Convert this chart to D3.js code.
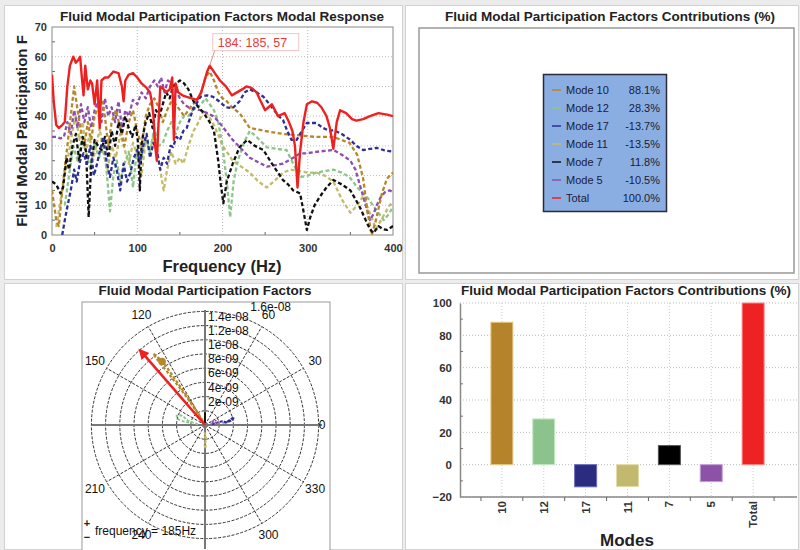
<!DOCTYPE html>
<html><head><meta charset="utf-8">
<script src="https://cdn.jsdelivr.net/npm/d3@7"></script>
<style>body{margin:0;background:#fff} svg{display:block;font-family:"Liberation Sans",Arial,sans-serif}</style>
</head><body><svg id="c" width="800" height="550"></svg>
<script>
// ---------- Modal response data (frequency Hz, value) ----------
const totalFreq = [0,2,5,8,12,15,18,21,25,28,31,33,35,37,39,42,45,47,50,53,56,58,62,66,72,78,82,84,86,90,95,100,105,111,115,117,119,121,123,125,127,131,134,138,141,143,145,148,153,158,164,170,175,179,182,185,191,197,204,211,217,223,228,234,240,244,250,254,258,265,273,278,282,285,288,291,295,299,305,311,316,322,326,330,334,338,345,352,357,365,373,383,393,400];
const totalVals = [54,45,37,36,37,38,50,57,60,58,59,60,53,47,57,49,52,51,44,52,36,52,53,53,55,54.5,50,45,52,54,54.5,53,51,49.5,48,45,40,30,25,38,50,49,48,49,53,32,51,48,47,46.5,46,45.5,48,52,55,57,54.5,52,50,47,48,49,50,49.5,48,45.5,42,43,44,40,41,38,35,30,16,28,38,44,45,44.5,43,40,36,29,38,42,41,39,38.5,39,40,41,40.5,40];

const mode10Freq = [0,5,8,12,18,22,26,30,34,38,42,46,50,55,58,62,66,70,75,80,85,90,95,100,105,110,115,120,125,130,135,140,145,150,155,160,165,170,175,180,185,190,195,200,205,211,220,232,250,271,291,310,330,349,358,365,370,375,380,387,393,400];
const mode10Vals = [15,5,3,15,30,40,50,42,35,30,38,32,40,44,46,40,30,38,42,36,30,38,42,35,30,40,44,46,43,38,42,45,44,42,40,42,44,45,48,53,55,52,48,46,45,43,41,36,35,34,33.5,33,33,31,27,19,8,0,5,14,19,21];

const mode12Freq = [15,20,25,30,35,40,45,50,55,60,64,68,72,76,80,85,90,95,100,105,110,115,120,125,130,135,140,145,150,155,160,165,170,175,180,185,190,195,200,205,209,213,218,225,232,240,252,263,275,283,291,300,310,320,330,340,349,358,369,379,389,395,400];
const mode12Vals = [10,20,30,25,32,28,22,31,26,30,22,8,20,25,18,24,28,16,30,26,33,28,36,30,31,35,38,34,38,40,40,42,43,44,46,44,42,38,30,18,6,18,25,31,35,33,29.5,29,28.6,24,19.5,20,21,21.5,22,21,19.5,16,13,9,5,7,9.5];

const mode17Freq = [12,15,18,22,26,29,33,37,41,45,49,52,56,60,64,68,72,76,80,84,88,92,96,100,103,107,111,115,119,123,127,131,135,139,142,146,150,154,158,165,174,182,189,196,204,212,220,226,232,240,248,258,266,271,276,281,287,293,299,303,310,318,326,330,340,350,357,365,373,381,390,400];
const mode17Vals = [0,5,9.5,15,22,18,25,27.5,24,30,20,23,28,33,25,19.5,26,22,15,24,18,21,26,28.6,24,30,34,26,31,28.6,22,26,24,30,29.6,33,32,35,36,42,46.5,47,46.5,45,43,42.7,45,48,49,48,46.5,43,40,38.7,35,32,32,35,37.7,37.7,37.7,36,35,35.3,34,32,30,28.6,29,29.3,28.5,28];

const mode11Freq = [5,8,12,16,20,24,28,32,36,40,44,48,52,56,60,65,70,75,80,85,90,95,100,105,110,115,120,125,128,131,135,140,145,150,154,160,166,172,178,184,190,196,200,205,212,222,232,242,252,260,271,280,290,300,310,320,330,340,350,358,365,372,380,388,396,400];
const mode11Vals = [2.7,8,15,22,28,35,40,32,38,28,34,25,30,36,28,22,30,26,34,29,24,31,27,20,32,28,35,25,20,15,22,28,24,26,24,30,35,38,42,40,37,33,30,28,25,23,21,18,16,18,21,22,21.5,21,21,20,18,12,7.5,10,13,8,2,6,10,11];

const mode7Freq = [0,5,10,13,17,20,24,28,32,36,40,43,46,50,54,58,62,66,70,74,78,82,86,90,94,98,101,103,105,107,110,114,118,122,126,130,134,138,142,146,150,155,160,166,172,178,185,190,195,198,201,205,212,220,229,238,248,258,265,271,277,283,291,295,299,303,308,314,322,330,340,350,356,361,368,373,377,383,388,393,400];
const mode7Vals = [18,17,14,16,26,22,30,34,25,33,28,6,24,32,30,28.6,33,26,35,30,38,34,40,36,33,37,31,15,30,34,38,41,36,42,40,44,48,46,50,51,52,51,49,45,43,41,38,35,25,17,10.7,18,24,29.6,32,30,28.6,24,21,18.5,17,15,14,8,1.7,6,10,12.8,16,18.5,17,15,12,9.4,5,2,0.7,3,2,1.7,3];

const mode5Freq = [0,5,10,14,18,22,26,30,34,38,42,46,50,54,58,62,66,70,74,78,82,86,90,95,100,105,110,115,120,124,128,132,136,140,145,150,155,160,167,174,182,189,196,204,212,222,232,242,252,262,271,277,283,291,299,310,320,330,340,350,356,360,365,370,373,377,381,386,391,396,400];
const mode5Vals = [33,33,32.5,33,38,34,42,36,44,38,43,36,42,45,38,46,40,43,38,45,36,42,40,45.5,44,48,46,50,52,50,53,48,52,51,49,46,44,43,42.5,42,41,40,38,35,32,29,26,24.5,23,23.5,24,25,26,27.5,27.5,28,28.3,28.6,27,25,22,18,13,8,5,7,10,13,14.5,15,14.5];

const freqTicks = [0,100,200,300,400];
const respTicks = [0,10,20,30,40,50,60,70];
const peakLabel = "184: 185, 57";
const peakFreq = 185, peakVal = 57;

// ---------- Contributions ----------
const modeNames = ["10","12","17","11","7","5","Total"];
const contrib = [88.1,28.3,-13.7,-13.5,11.8,-10.5,100.0];
const legendNames = ["Mode 10","Mode 12","Mode 17","Mode 11","Mode 7","Mode 5","Total"];
const contribTicks = [-20,0,20,40,60,80,100];

// ---------- Polar (magnitude in 1e-9 units, angle deg) ----------
const ringVals = [2,4,6,8,10,12,14,16];
const ringLabels = ["2e-09","4e-09","6e-09","8e-09","1e-08","1.2e-08","1.4e-08","1.6e-08"];
const angleLabels = [0,30,60,120,150,210,240,300,330];
const totalVecAngle = 131, totalVecMag = 14.1;
const locus10 = [[120,0.5],[123,4],[125,8],[126,12.4],[124,10.8],[123,7],[121,3],[118,0.5]];
const locus12 = [[175,1],[165,2.5],[158,3.5],[162,4.2],[168,3.8],[172,2]];
const locus17 = [[5,1],[12,2.5],[8,3],[15,4.2],[10,3.8],[6,2.5]];
const locus11 = [[265,1],[275,2],[268,2.8],[272,3.3],[270,1.5]];
const locus7  = [[92,0.3],[90,1.8]];
const locus5  = [[20,1],[10,1.9],[25,1.5],[15,0.8]];
const dot10 = [124,10.8];

const colors = {"10":"#b8862a","12":"#8cc58a","17":"#2e2e96","11":"#c4bb6a","7":"#111111","5":"#8c4fb0","Total":"#ee2020"};
const barColors = {"10":"#b5842a","12":"#8cc38c","17":"#2b2b80","11":"#c2b96e","7":"#000000","5":"#8c52a8","Total":"#ee2222"};
const barStroke = {"10":"#e6c98a","12":"#c8e8c8","17":"#6a6ab8","11":"#e4dca8","7":"#555","5":"#c3a0d8","Total":"#f88"};

const svg = d3.select("#c");
svg.append("rect").attr("width",800).attr("height",550).attr("fill","#ececec");
[[4,5,398,274],[405,5,393,274],[4,283,398,266],[405,283,393,266]].forEach(p=>{
  svg.append("rect").attr("x",p[0]+0.5).attr("y",p[1]+0.5).attr("width",p[2]).attr("height",p[3]).attr("fill","#fff").attr("stroke","#d2d2d2");
});
const titleStyle = s => s.attr("font-size",13.5).attr("font-weight","bold").attr("fill","#222").attr("text-anchor","middle");

// ================= Panel 1: modal response =================
{
  const x = d3.scaleLinear([0,400],[52,393]);
  const y = d3.scaleLinear([0,70],[235,27]);
  const g = svg.append("g");
  svg.append("defs").append("clipPath").attr("id","clip1").append("rect").attr("x",52).attr("y",27).attr("width",341).attr("height",208);
  titleStyle(g.append("text").attr("x",222).attr("y",21)).text("Fluid Modal Participation Factors Modal Response");
  g.selectAll(".gy").data(respTicks.slice(1,-1)).join("line").attr("x1",52).attr("x2",393).attr("y1",d=>y(d)).attr("y2",d=>y(d)).attr("stroke","#bbb").attr("stroke-dasharray","1,2");
  g.selectAll(".gx").data(freqTicks.slice(1,-1)).join("line").attr("y1",27).attr("y2",235).attr("x1",d=>x(d)).attr("x2",d=>x(d)).attr("stroke","#bbb").attr("stroke-dasharray","1,2");
  const ax = g.append("g").attr("transform","translate(0,235)").call(d3.axisBottom(x).tickValues(freqTicks).tickSize(0).tickPadding(9).tickFormat(d3.format("d")));
  const ay = g.append("g").attr("transform","translate(52,0)").call(d3.axisLeft(y).tickValues(respTicks).tickSize(0).tickPadding(5));
  [ax,ay].forEach(a=>{a.select(".domain").remove(); a.selectAll("text").attr("font-size",11).attr("font-weight","bold").attr("fill","#333").attr("font-family","Liberation Sans, Arial");});
  g.selectAll(".mt").data([50,150,250,350]).join("line").attr("x1",d=>x(d)).attr("x2",d=>x(d)).attr("y1",235).attr("y2",232).attr("stroke","#666");
  g.selectAll(".mty").data([5,15,25,35,45,55,65]).join("line").attr("x1",52).attr("x2",55).attr("y1",d=>y(d)).attr("y2",d=>y(d)).attr("stroke","#666");
  g.append("rect").attr("x",52).attr("y",27).attr("width",341).attr("height",208).attr("fill","none").attr("stroke","#888");
  const series = [
    [mode11Freq,mode11Vals,"11"],[mode12Freq,mode12Vals,"12"],[mode5Freq,mode5Vals,"5"],
    [mode10Freq,mode10Vals,"10"],[mode7Freq,mode7Vals,"7"],[mode17Freq,mode17Vals,"17"]
  ];
  const line = d3.line().x(d=>x(d[0])).y(d=>y(d[1]));
  const lg = g.append("g").attr("clip-path","url(#clip1)");
  series.forEach(([f,v,k])=>{
    lg.append("path").attr("d",line(f.map((ff,i)=>[ff,v[i]]))).attr("fill","none").attr("stroke",colors[k]).attr("stroke-width",2.3).attr("stroke-dasharray","4,2.5").attr("stroke-linejoin","round");
  });
  lg.append("path").attr("d",line(totalFreq.map((ff,i)=>[ff,totalVals[i]]))).attr("fill","none").attr("stroke",colors.Total).attr("stroke-width",2.4).attr("stroke-linejoin","round");
  const px = x(peakFreq), py = y(peakVal);
  g.append("rect").attr("x",px+3).attr("y",py-32).attr("width",86).attr("height",17).attr("fill","#fff").attr("stroke","#f4c4c4");
  g.append("line").attr("x1",px).attr("y1",py).attr("x2",px+5).attr("y2",py-15).attr("stroke","#f08a8a");
  g.append("text").attr("x",px+8).attr("y",py-19).attr("font-size",12.5).attr("fill","#e83a3a").text(peakLabel);
  g.append("text").attr("x",222).attr("y",272).attr("text-anchor","middle").attr("font-size",16.5).attr("font-weight","bold").attr("fill","#222").text("Frequency (Hz)");
  g.append("text").attr("transform","translate(27,131) rotate(-90)").attr("text-anchor","middle").attr("font-size",15).attr("font-weight","bold").attr("fill","#222").text("Fluid Modal Participation F");
}

// ================= Panel 2: legend only =================
{
  const g = svg.append("g");
  titleStyle(g.append("text").attr("x",610).attr("y",21)).text("Fluid Modal Participation Factors Contributions (%)");
  g.append("rect").attr("x",419).attr("y",28).attr("width",375).attr("height",245).attr("fill","#fff").attr("stroke","#999").attr("stroke-width",1.5);
  g.append("rect").attr("x",543.5).attr("y",74.5).attr("width",123).attr("height",137).attr("fill","#8aaee2").attr("stroke","#2a2a3a").attr("stroke-width",1.5);
  legendNames.forEach((n,i)=>{
    const yy = 90 + i*18;
    g.append("line").attr("x1",552).attr("x2",561).attr("y1",yy).attr("y2",yy).attr("stroke",colors[modeNames[i]]).attr("stroke-width",1.5);
    g.append("text").attr("x",566).attr("y",yy+4).attr("font-size",11).attr("fill","#1a1a3a").text(n);
    g.append("text").attr("x",660).attr("y",yy+4).attr("font-size",11).attr("fill","#1a1a3a").attr("text-anchor","end").text(contrib[i].toFixed(1)+"%");
  });
}

// ================= Panel 3: polar =================
{
  const cx = 205, cy = 425;
  const r = d3.scaleLinear([0,16],[0,113.6]);
  const g = svg.append("g");
  titleStyle(g.append("text").attr("x",205).attr("y",295)).text("Fluid Modal Participation Factors");
  svg.select("defs").append("clipPath").attr("id","clip3").append("rect").attr("x",82).attr("y",302).attr("width",248).attr("height",247);
  g.append("rect").attr("x",82).attr("y",302).attr("width",248).attr("height",250).attr("fill","#fff").attr("stroke","#999");
  const pg = g.append("g").attr("clip-path","url(#clip3)");
  const pt = (a,m)=>[cx + r(m)*Math.cos(a*Math.PI/180), cy - r(m)*Math.sin(a*Math.PI/180)];
  ringVals.forEach(v=>{
    pg.append("circle").attr("cx",cx).attr("cy",cy).attr("r",r(v)).attr("fill","none").attr("stroke","#333").attr("stroke-width",1).attr("stroke-dasharray","3,1.5");
  });
  d3.range(30,360,30).filter(a=>a%90!==0).forEach(a=>{
    const p = pt(a,16);
    pg.append("line").attr("x1",cx).attr("y1",cy).attr("x2",p[0]).attr("y2",p[1]).attr("stroke","#333").attr("stroke-width",1).attr("stroke-dasharray","3,1.5");
  });
  pg.append("line").attr("x1",cx-113).attr("x2",cx+117).attr("y1",cy).attr("y2",cy).attr("stroke","#777").attr("stroke-width",2);
  pg.append("line").attr("x1",cx).attr("x2",cx).attr("y1",cy-115).attr("y2",552).attr("stroke","#777").attr("stroke-width",2);
  ringLabels.forEach((t,i)=>{
    if (i < ringLabels.length-1) {
      pg.append("text").attr("x",cx+3).attr("y",cy - r(ringVals[i]) - 5).attr("font-size",12).attr("fill","#111").text(t);
    } else {
      const p = pt(69, 17.8);
      pg.append("text").attr("x",p[0]).attr("y",p[1]+4).attr("font-size",12).attr("fill","#111").text(t);
    }
  });
  angleLabels.forEach(a=>{
    const p = pt(a,17.9);
    pg.append("text").attr("x",Math.min(p[0],322)).attr("y",p[1]+4).attr("text-anchor","middle").attr("font-size",12).attr("fill","#111").text(a);
  });
  const pl = d3.line().x(d=>pt(d[0],d[1])[0]).y(d=>pt(d[0],d[1])[1]).curve(d3.curveCatmullRom);
  [[locus12,"12",1.8,"3,1.5"],[locus11,"11",1.8,"3,1.5"],[locus17,"17",2,"3,1"],[locus5,"5",1.6,"2,1"],[locus7,"7",2,null],[locus10,"10",2.2,"3,2"]].forEach(([d,k,w,da])=>{
    const p = pg.append("path").attr("d",pl(d)).attr("fill","none").attr("stroke",colors[k]).attr("stroke-width",w);
    if (da) p.attr("stroke-dasharray",da);
  });
  const dp = pt(dot10[0],dot10[1]);
  pg.append("circle").attr("cx",dp[0]).attr("cy",dp[1]).attr("r",3.8).attr("fill",colors["10"]);
  svg.select("defs").append("marker").attr("id","arr").attr("viewBox","0 0 10 10").attr("refX",9).attr("refY",5)
    .attr("markerWidth",5).attr("markerHeight",4).attr("orient","auto").attr("markerUnits","strokeWidth")
    .append("path").attr("d","M0,0L10,5L0,10Z").attr("fill",colors.Total);
  const tip = pt(totalVecAngle,totalVecMag);
  pg.append("line").attr("x1",cx).attr("y1",cy).attr("x2",tip[0]).attr("y2",tip[1]).attr("stroke",colors.Total).attr("stroke-width",2.6).attr("marker-end","url(#arr)");
  pg.append("text").attr("x",95).attr("y",535).attr("font-size",12).attr("fill","#111").text("frequency = 185Hz");
  pg.append("text").attr("x",87).attr("y",527).attr("font-size",11).attr("font-weight","bold").attr("fill","#222").attr("text-anchor","middle").text("+");
  pg.append("text").attr("x",87).attr("y",541).attr("font-size",11).attr("font-weight","bold").attr("fill","#222").attr("text-anchor","middle").text("\u2212");
}

// ================= Panel 4: bars =================
{
  const x = d3.scalePoint(modeNames,[460,795]).padding(1);
  const y = d3.scaleLinear([-20,100],[497,303]);
  const g = svg.append("g");
  titleStyle(g.append("text").attr("x",626).attr("y",295)).text("Fluid Modal Participation Factors Contributions (%)");
  g.selectAll(".gy").data(contribTicks).join("line").attr("x1",460).attr("x2",797).attr("y1",d=>y(d)).attr("y2",d=>y(d)).attr("stroke","#bbb").attr("stroke-dasharray","1,2");
  g.selectAll(".gx").data(modeNames).join("line").attr("x1",d=>x(d)).attr("x2",d=>x(d)).attr("y1",303).attr("y2",497).attr("stroke","#ccc").attr("stroke-dasharray","1,2");
  const bw = 22;
  g.selectAll(".bar").data(modeNames).join("rect")
    .attr("x",d=>x(d)-bw/2).attr("width",bw)
    .attr("y",(d,i)=>y(Math.max(0,contrib[i]))).attr("height",(d,i)=>Math.abs(y(contrib[i])-y(0)))
    .attr("fill",d=>barColors[d]).attr("stroke",d=>barStroke[d]).attr("stroke-width",1);
  const ay = g.append("g").attr("transform","translate(460,0)").call(d3.axisLeft(y).tickValues(contribTicks).tickSize(0).tickPadding(8));
  ay.select(".domain").attr("stroke","#888").attr("stroke-width",1.5);
  ay.selectAll("text").attr("font-size",11.5).attr("font-weight","bold").attr("fill","#333").attr("font-family","Liberation Sans, Arial");
  g.selectAll(".myt").data(d3.range(-10,100,20)).join("line").attr("x1",460).attr("x2",463).attr("y1",d=>y(d)).attr("y2",d=>y(d)).attr("stroke","#777");
  g.append("line").attr("x1",460).attr("x2",797).attr("y1",497).attr("y2",497).attr("stroke","#888").attr("stroke-width",1.5);
  const step = x.step();
  g.selectAll(".xt").data(d3.range(0,8)).join("line").attr("x1",d=>x(modeNames[0])-step/2+d*step).attr("x2",d=>x(modeNames[0])-step/2+d*step).attr("y1",497).attr("y2",501).attr("stroke","#666");
  g.selectAll(".xl").data(modeNames).join("text").attr("transform",d=>`translate(${x(d)},501) rotate(-90)`).attr("dy","0.35em")
    .attr("text-anchor","end").attr("font-size",11.5).attr("font-weight","bold").attr("fill","#333").text(d=>d);
  g.append("text").attr("x",627).attr("y",546).attr("text-anchor","middle").attr("font-size",17).attr("font-weight","bold").attr("fill","#222").text("Modes");
}
</script></body></html>
